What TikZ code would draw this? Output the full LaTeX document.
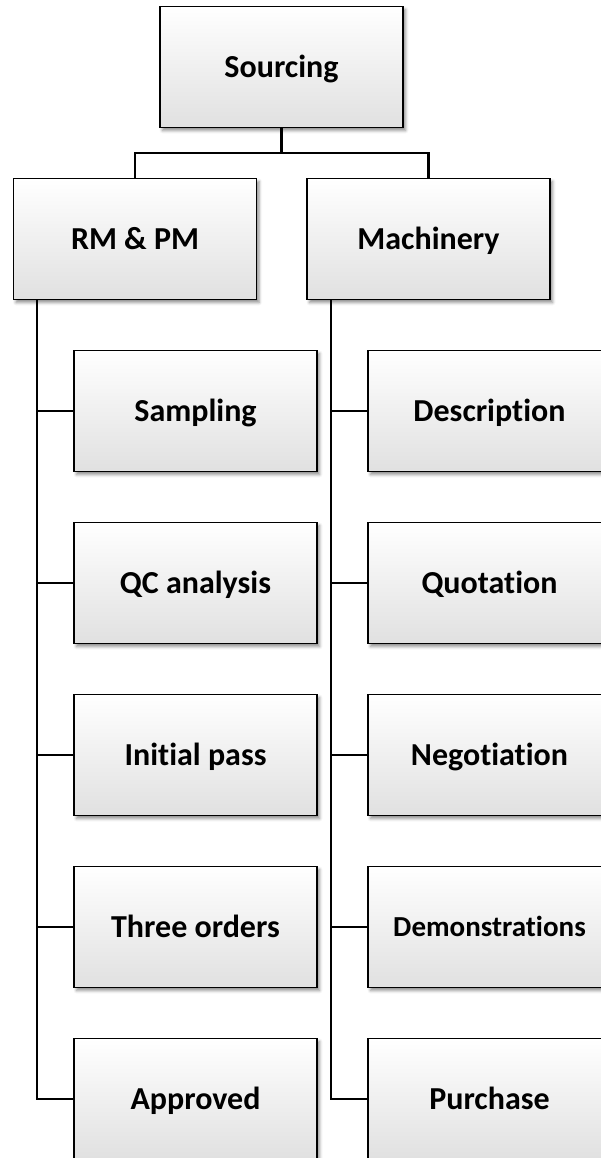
\documentclass[tikz,border=0pt]{standalone}
\usepackage{fontspec}
\setmainfont{Carlito}[Ligatures=NoCommon]
\usetikzlibrary{shadows.blur}
\tikzset{
  orgbox/.style={draw=black, line width=1.7pt, minimum width=243pt, minimum height=121pt,
    inner sep=0pt, text height=20.5pt, text depth=0pt,
    top color=white, middle color=white, bottom color=black!12,
    font=\fontsize{32}{38}\selectfont\bfseries,
    blur shadow={shadow xshift=2.5pt, shadow yshift=-3pt, shadow blur radius=3pt, shadow opacity=45}},
  link/.style={draw=black, line width=2.2pt},
}
\begin{document}
\begin{tikzpicture}[x=1pt, y=1pt]
  \useasboundingbox (0,0) rectangle (601,-1158);
  \clip (0,0) rectangle (601,-1158);
  % top level
  \node[orgbox] (src) at (281.5,-67) {Sourcing};
  \node[orgbox] (rm) at (135,-239) {RM \& PM};
  \node[orgbox] (mach) at (428.5,-239) {Machinery};
  % raw and packing material steps
  \node[orgbox] (l1) at (195.5,-411) {Sampling};
  \node[orgbox] (l2) at (195.5,-583) {QC analysis};
  \node[orgbox] (l3) at (195.5,-755) {Initial pass};
  \node[orgbox] (l4) at (195.5,-927) {Three orders};
  \node[orgbox] (l5) at (195.5,-1099) {Approved};
  % machinery steps
  \node[orgbox] (r1) at (489.5,-411) {Description};
  \node[orgbox] (r2) at (489.5,-583) {Quotation};
  \node[orgbox] (r3) at (489.5,-755) {Negotiation};
  \node[orgbox, font=\fontsize{29}{34}\selectfont\bfseries, text height=19pt] (r4) at (489.5,-927) {Demonstrations};
  \node[orgbox] (r5) at (489.5,-1099) {Purchase};
  % connectors from the root
  \draw[link] (src.south) -- ++(0,-25) coordinate (bus) -| (rm.north);
  \draw[link] (bus) -| (mach.north);
  % left spine
  \coordinate (lt) at ([xshift=24pt]rm.south west);
  \draw[link] (lt) -- (lt |- l5.west) -- (l5.west);
  \foreach \n in {l1,l2,l3,l4} \draw[link] (lt |- \n.west) -- (\n.west);
  % right spine
  \coordinate (rt) at ([xshift=25pt]mach.south west);
  \draw[link] (rt) -- (rt |- r5.west) -- (r5.west);
  \foreach \n in {r1,r2,r3,r4} \draw[link] (rt |- \n.west) -- (\n.west);
\end{tikzpicture}
\end{document}
